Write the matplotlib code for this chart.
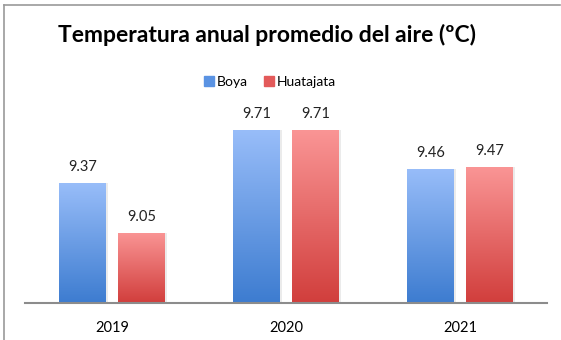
import numpy as np
import matplotlib.pyplot as plt
from matplotlib.colors import LinearSegmentedColormap
from matplotlib.lines import Line2D

# --- data ---
years = ["2019", "2020", "2021"]
boya = [9.37, 9.71, 9.46]
huatajata = [9.05, 9.71, 9.47]
series_names = ["Boya", "Huatajata"]

plt.rcParams['font.family'] = ['Lato', 'DejaVu Sans']

fig = plt.figure(figsize=(5.61, 3.40), dpi=100)
W, H = 561, 340
# plot area in pixels: x 25..547, baseline at y=303, top at y=116
ax = fig.add_axes([25 / W, 1 - 303 / H, 522 / W, 187 / H])
ax.set_xlim(-0.5, 2.5)
ax.set_ylim(8.6, 9.8)

blue_cmap = LinearSegmentedColormap.from_list("blue", ["#3d7cd0", "#98bdf9"])
red_cmap = LinearSegmentedColormap.from_list("red", ["#d13e3c", "#fa9595"])

bw = 0.27
gap = 0.07
x = np.arange(len(years))
grad = np.linspace(0, 1, 256).reshape(-1, 1)

for vals, off, cmap in [(boya, -(bw + gap) / 2, blue_cmap),
                        (huatajata, (bw + gap) / 2, red_cmap)]:
    bars = ax.bar(x + off, vals, width=bw, bottom=0, color="none",
                  edgecolor="none", zorder=2)
    for b, v in zip(bars, vals):
        x0, x1 = b.get_x(), b.get_x() + b.get_width()
        # soft shadow on the right edge
        ax.fill_between([x1, x1 + 0.012], 8.6, v, color="#000000",
                        alpha=0.08, lw=0, zorder=1)
        im = ax.imshow(grad, cmap=cmap, extent=[x0, x1, 8.6, v],
                       origin="lower", aspect="auto", zorder=2)
        im.set_clip_path(b)
        ax.text(b.get_x() + b.get_width() / 2, v + 0.06, f"{v:.2f}",
                ha="center", va="bottom", fontsize=10.5, color="#222222")

ax.set_xlim(-0.5, 2.5)
ax.set_ylim(8.6, 9.8)
ax.set_yticks([])
ax.set_xticks(x)
ax.set_xticklabels(years, fontsize=10.5)
ax.tick_params(axis="x", length=0, pad=13)
for s in ["top", "right", "left"]:
    ax.spines[s].set_visible(False)
ax.spines["bottom"].set_color("#8c8c8c")
ax.spines["bottom"].set_linewidth(1.5)

fig.text(267 / W, 1 - 35 / H, "Temperatura anual promedio del aire (ºC)",
         ha="center", va="center", fontsize=16.5, fontweight="bold")

handles = [Line2D([], [], marker="s", ls="", markersize=7,
                  markerfacecolor=c, markeredgecolor=c)
           for c in ["#5a93e3", "#e35a5a"]]
fig.legend(handles, series_names, loc="center", ncol=2,
           bbox_to_anchor=(269 / W, 1 - 82 / H), frameon=False,
           fontsize=10, handletextpad=0.1, columnspacing=1.0,
           handlelength=1.0)

# outer chart border (top and left edges)
fig.add_artist(Line2D([4 / W, 4 / W], [0, 1 - 5 / H], transform=fig.transFigure,
                      color="#9a9a9a", lw=1.2))
fig.add_artist(Line2D([4 / W, 560 / W], [1 - 5 / H, 1 - 5 / H],
                      transform=fig.transFigure, color="#9a9a9a", lw=1.2))

fig.savefig("out.png", dpi=100)
